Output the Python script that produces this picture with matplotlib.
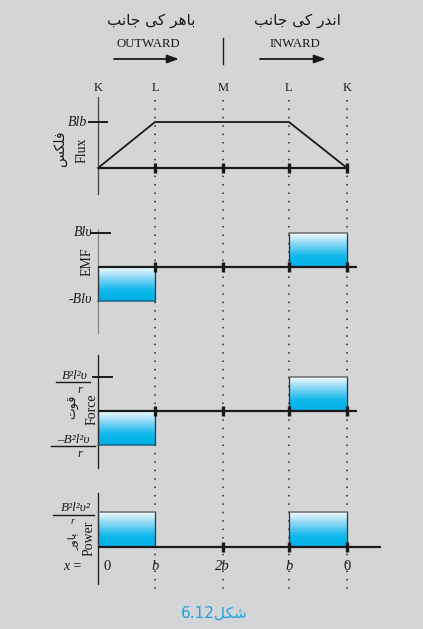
import matplotlib.pyplot as plt
import numpy as np
from matplotlib.colors import LinearSegmentedColormap
from matplotlib.transforms import blended_transform_factory

W, H = 423, 629
BG = '#d4d5d7'
INK = '#1a1a1a'
SERIF = 'Liberation Serif'
URDU = ['DejaVu Sans', 'Noto Sans', 'Liberation Sans']

# track stations and the values of each quantity along the path
stations = ['K', 'L', 'M', 'L', 'K']
station_pos = [0, 1, 2.19, 3.35, 4.37]
x_labels = ['0', 'b', '2b', 'b', '0']
flux = [0, 1, 1, 1, 0]      # at the stations, in units of Blb
emf = [-1, 0, 0, 1]         # per segment, in units of Blv
force = [-1, 0, 0, 1]       # per segment, in units of B²l²v/r
power = [1, 0, 0, 1]        # per segment, in units of B²l²v²/r


def urdu(s):
    # matplotlib has no bidi/shaping: feed presentation forms, reversed
    return s[::-1]


# heh goal has no glyph in the installed fonts -> arabic heh (initial form)
outward_ur = urdu('\uFE91\uFE8E\uFEEB\uFEAE \uFB90\uFBFD \uFE9F\uFE8E\uFEE7\uFE90')
inward_ur = urdu('\uFE8D\uFEE7\uFEAA\uFEAD \uFB90\uFBFD \uFE9F\uFE8E\uFEE7\uFE90')
flux_ur = urdu('\uFED3\uFEE0\uFB91\uFEB2')
force_ur = urdu('\uFED7\uFEEE\uFE95')
power_ur = urdu('\uFB58\uFE8E\uFEED\uFEAD')
fig_ur = urdu('\uFEB7\uFB91\uFEDE')

PX0, PXU = 98, 57
XLIM = (-PX0 / PXU, (W - PX0) / PXU)

cmap = LinearSegmentedColormap.from_list(
    'bar', [(0, '#f4fbfe'), (0.3, '#8fd8f4'), (0.68, '#10b8ec'), (1, '#00b0e6')])
grad = np.linspace(0, 1, 128).reshape(-1, 1)

fig = plt.figure(figsize=(W / 100, H / 100), dpi=100, facecolor=BG)

bg = fig.add_axes([0, 0, 1, 1])
bg.set_xlim(0, W)
bg.set_ylim(H, 0)
bg.axis('off')


def panel(base_px, unit_px, ylo, yhi):
    top = base_px - yhi * unit_px
    bot = base_px - ylo * unit_px
    ax = fig.add_axes([0, 1 - bot / H, 1, (bot - top) / H])
    ax.axis('off')
    ax._lims = (ylo, yhi)
    return ax


def finish(ax):
    ax.set_xlim(XLIM)
    ax.set_ylim(*ax._lims)


def left_axis(ax, lo, hi, color=INK):
    ax.plot([0, 0], [lo, hi], color=color, lw=0.9, zorder=3)


def baseline(ax, end, ticks=station_pos[1:]):
    ax.plot([0, end], [0, 0], color=INK, lw=1.6, zorder=5, solid_capstyle='butt')
    ax.plot(ticks, [0] * len(ticks), ls='none', marker='|', ms=6.5, mew=2.4,
            color=INK, zorder=6)


def level_tick(ax, y, x0=-0.14, x1=0.2):
    ax.plot([x0, x1], [y, y], color=INK, lw=1.4, zorder=4)


def draw_bars(ax, vals):
    for i, v in enumerate(vals):
        if v == 0:
            continue
        x0, x1 = station_pos[i], station_pos[i + 1]
        lo, hi = min(0, v), max(0, v)
        ax.imshow(grad, cmap=cmap, extent=(x0, x1, lo, hi), aspect='auto',
                  origin='upper', zorder=2, interpolation='bilinear')
        ax.plot([x0, x0], [lo, hi], color='#333333', lw=0.9, zorder=3)
        ax.plot([x1, x1], [lo, hi], color='#333333', lw=0.9, zorder=3)
        edge = '#6d6d6d' if v > 0 else '#1f6487'
        ax.plot([x0, x1], [v, v], color=edge, lw=1.1, zorder=3)


def fraction(ax, x, y, num, x0, x1, r_x=None, r_size=9):
    ax.text(x, y, num, fontsize=9.5, family=SERIF, style='italic',
            ha='center', va='bottom', color=INK)
    ax.plot([x0, x1], [y - 0.02, y - 0.02], color=INK, lw=1.0, clip_on=False)
    ax.text(x if r_x is None else r_x, y - 0.08, 'r', fontsize=r_size, family=SERIF,
            style='italic', ha='center', va='top', color=INK)


# ---- header ----
bg.text(151, 21, outward_ur, family=URDU, fontsize=11, ha='center', va='center', color=INK)
bg.text(297, 21, inward_ur, family=URDU, fontsize=11, ha='center', va='center', color=INK)
bg.text(148, 44, 'OUTWARD', family=SERIF, fontsize=9.2, ha='center', va='center', color=INK)
bg.text(295, 44, 'INWARD', family=SERIF, fontsize=9.2, ha='center', va='center', color=INK)
arrow = dict(arrowstyle='-|>,head_length=0.7,head_width=0.25', color=INK, lw=1.3,
             shrinkA=0, shrinkB=0)
bg.annotate('', xy=(179, 59), xytext=(114, 59), arrowprops=arrow)
bg.annotate('', xy=(326, 59), xytext=(260, 59), arrowprops=arrow)
bg.plot([223, 223], [38, 64], color=INK, lw=1.0)

# ---- flux ----
ax1 = panel(168, 46, -0.7, 1.9)
left_axis(ax1, -0.565, 1.543, '#444444')
ax1.plot(station_pos, flux, color=INK, lw=1.3, zorder=4)
baseline(ax1, station_pos[-1])
level_tick(ax1, 1, -0.16, 0.15)
ax1.text(-0.18, 1, 'Blb', family=SERIF, style='italic', fontsize=10, ha='right', va='center', color=INK)
ax1.text(-0.28, 0.39, 'Flux', family=SERIF, fontsize=10, rotation=90, ha='center', va='center', color=INK)
ax1.text(-0.66, 0.42, flux_ur, family=URDU, fontsize=10, rotation=90, ha='center', va='center', color=INK)
for name, p in zip(stations, station_pos):
    ax1.text(p, 1.74, name, family=SERIF, fontsize=9, ha='center', va='center', color=INK)
finish(ax1)

# ---- EMF ----
ax2 = panel(267, 34, -2.1, 1.3)
left_axis(ax2, -1.94, 1.12, '#8a8a8a')
draw_bars(ax2, emf)
baseline(ax2, 4.54)
level_tick(ax2, 1, -0.12, 0.21)
ax2.text(-0.1, 1, 'Bl\u03c5', family=SERIF, style='italic', fontsize=10, ha='right', va='center', color=INK)
ax2.text(-0.1, -0.97, '-Bl\u03c5', family=SERIF, style='italic', fontsize=10, ha='right', va='center', color=INK)
ax2.text(-0.19, 0.15, 'EMF', family=SERIF, fontsize=10, rotation=90, ha='center', va='center', color=INK)
finish(ax2)

# ---- force ----
ax3 = panel(411, 34, -1.8, 1.8)
left_axis(ax3, -1.68, 1.65)
draw_bars(ax3, force)
baseline(ax3, 4.54)
level_tick(ax3, 1, -0.09, 0.25)
fraction(ax3, -0.4, 0.86, 'B\u00b2l\u00b2\u03c5', -0.74, -0.14, r_x=-0.32)
fraction(ax3, -0.44, -1.02, '\u2013B\u00b2l\u00b2\u03c5', -0.82, -0.05, r_x=-0.32)
ax3.text(-0.11, 0.06, 'Force', family=SERIF, fontsize=10, rotation=90, ha='center', va='center', color=INK)
ax3.text(-0.44, 0.12, force_ur, family=URDU, fontsize=9, rotation=90, ha='center', va='center', color=INK)
finish(ax3)

# ---- power ----
ax4 = panel(547, 35, -1.2, 1.7)
left_axis(ax4, -1.06, 1.54)
draw_bars(ax4, power)
baseline(ax4, 4.96, station_pos[2:])
fraction(ax4, -0.39, 0.93, 'B\u00b2l\u00b2\u03c5\u00b2', -0.79, -0.07, r_x=-0.44, r_size=7)
ax4.text(-0.15, 0.26, 'Power', family=SERIF, fontsize=10, rotation=90, ha='center', va='center', color=INK)
ax4.text(-0.44, 0.17, power_ur, family=URDU, fontsize=8, rotation=90, ha='center', va='center', color=INK)
ax4.text(-0.44, -0.57, 'x =', family=SERIF, style='italic', fontsize=10, ha='center', va='center', color=INK)
label_pos = [0.16] + station_pos[1:]
for lab, p in zip(x_labels, label_pos):
    ax4.text(p, -0.57, lab, family=SERIF, style='italic' if 'b' in lab else 'normal',
             fontsize=10.5, ha='center', va='center', color=INK)
finish(ax4)

# ---- dotted guides ----
trans = blended_transform_factory(ax1.transData, bg.transData)
for p in station_pos[1:]:
    bg.plot([p, p], [100, 590], transform=trans, color='#2a2a2a', lw=1.1,
            ls=(0, (1, 4.5)), zorder=1)

# ---- caption ----
bg.text(214, 613, '6.12' + fig_ur, family=URDU, fontsize=11, ha='center', va='center',
        color='#1ea3dd')

fig.savefig('out.png', dpi=100, facecolor=BG)
